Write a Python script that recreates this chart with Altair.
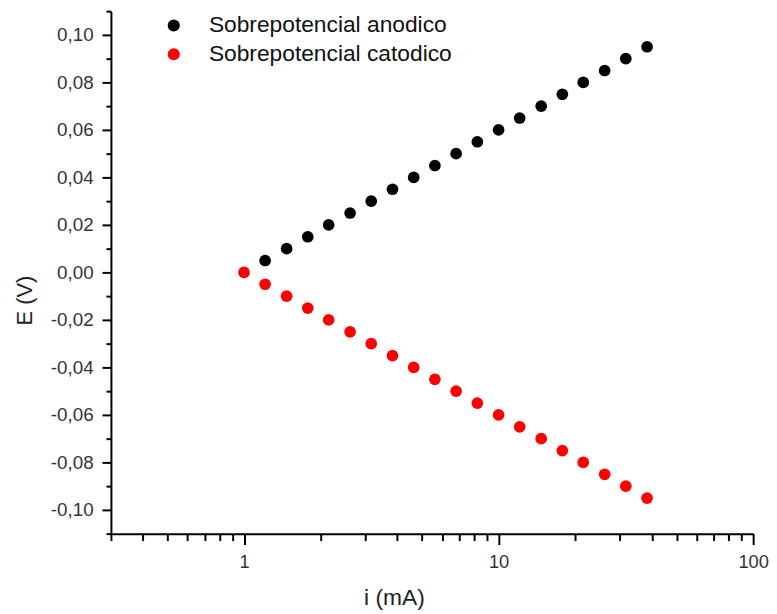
import altair as alt
import pandas as pd

# Data
anodic_i = [1.21, 1.47, 1.78, 2.15, 2.61, 3.16, 3.83, 4.64, 5.62, 6.81,
            8.25, 10.0, 12.1, 14.7, 17.8, 21.5, 26.1, 31.6, 38.3]
anodic_E = [0.005, 0.010, 0.015, 0.020, 0.025, 0.030, 0.035, 0.040, 0.045, 0.050,
            0.055, 0.060, 0.065, 0.070, 0.075, 0.080, 0.085, 0.090, 0.095]
catodic_i = [1.0, 1.21, 1.47, 1.78, 2.15, 2.61, 3.16, 3.83, 4.64, 5.62, 6.81,
             8.25, 10.0, 12.1, 14.7, 17.8, 21.5, 26.1, 31.6, 38.3]
catodic_E = [0.000, -0.005, -0.010, -0.015, -0.020, -0.025, -0.030, -0.035, -0.040, -0.045,
             -0.050, -0.055, -0.060, -0.065, -0.070, -0.075, -0.080, -0.085, -0.090, -0.095]
series_names = ["Sobrepotencial anodico", "Sobrepotencial catodico"]
series_colors = ["#000000", "#ff0000"]

x_major = [1, 10, 100]
x_minor = [0.3, 0.4, 0.5, 0.6, 0.7, 0.8, 0.9, 2, 3, 4, 5, 6, 7, 8, 9,
           20, 30, 40, 50, 60, 70, 80, 90]
y_major = [-0.10, -0.08, -0.06, -0.04, -0.02, 0.0, 0.02, 0.04, 0.06, 0.08, 0.10]
y_minor = [-0.11, -0.09, -0.07, -0.05, -0.03, -0.01, 0.01, 0.03, 0.05, 0.07, 0.09, 0.11]

df = pd.concat([
    pd.DataFrame({"i": anodic_i, "E": anodic_E, "serie": series_names[0]}),
    pd.DataFrame({"i": catodic_i, "E": catodic_E, "serie": series_names[1]}),
])

FONT = "Liberation Sans"
xscale = alt.Scale(type="log", domain=[0.3, 100], nice=False)
yscale = alt.Scale(domain=[-0.11, 0.11], nice=False, zero=False)

points = alt.Chart(df).mark_circle(size=140, opacity=1).encode(
    x=alt.X("i:Q", scale=xscale, axis=alt.Axis(
        orient="bottom", values=x_major, format="~g", title="i (mA)",
        tickSize=11, tickWidth=2, domainWidth=2, domainColor="black", tickColor="black",
        labelFont=FONT, labelFontSize=18.5, labelColor="#333333", labelPadding=8,
        labelFlush=False, labelOverlap=False,
        titleFont=FONT, titleFontSize=23, titleFontWeight="normal", titleColor="#222222",
        titleX=286, titleY=72, titleBaseline="alphabetic", grid=False)),
    y=alt.Y("E:Q", scale=yscale, axis=alt.Axis(
        orient="left", values=y_major, title="E (V)",
        labelExpr="replace(replace(format(datum.value, '.2f'), '.', ','), '\u2212', '-')",
        tickSize=9, tickWidth=2, domainWidth=2, domainColor="black", tickColor="black",
        labelFont=FONT, labelFontSize=19, labelColor="#333333", labelPadding=9,
        labelFlush=False, labelOverlap=False,
        titleFont=FONT, titleFontSize=22, titleFontWeight="normal", titleColor="#222222",
        titleAngle=270, titleX=-87, titleY=292, titleAlign="center", titleBaseline="middle",
        grid=False)),
    color=alt.Color("serie:N", scale=alt.Scale(domain=series_names, range=series_colors),
                    legend=alt.Legend(
                        title=None, orient="none", legendX=52, legendY=3,
                        symbolType="circle", symbolSize=150, symbolStrokeWidth=0,
                        labelFont=FONT, labelFontSize=23, labelColor="#111111",
                        labelLimit=0, labelOffset=24, rowPadding=5, padding=0)),
)

minor = alt.Chart(df).mark_circle(size=0, opacity=0).encode(
    x=alt.X("i:Q", scale=xscale, axis=alt.Axis(
        orient="bottom", values=x_minor, labels=False, title=None,
        tickSize=7, tickWidth=2, domain=False, tickColor="black", grid=False)),
    y=alt.Y("E:Q", scale=yscale, axis=alt.Axis(
        orient="left", values=y_minor, labels=False, title=None,
        tickSize=5, tickWidth=2, domain=False, tickColor="black", grid=False)),
)

chart = alt.layer(points, minor).resolve_axis(x="independent", y="independent").properties(
    width=649, height=528,
    autosize=alt.AutoSizeParams(type="none"),
    padding={"left": 104, "right": 16, "top": 0, "bottom": 76},
).configure_view(stroke=None)

chart.save("out.html", embed_options={"renderer": "svg", "actions": False})
